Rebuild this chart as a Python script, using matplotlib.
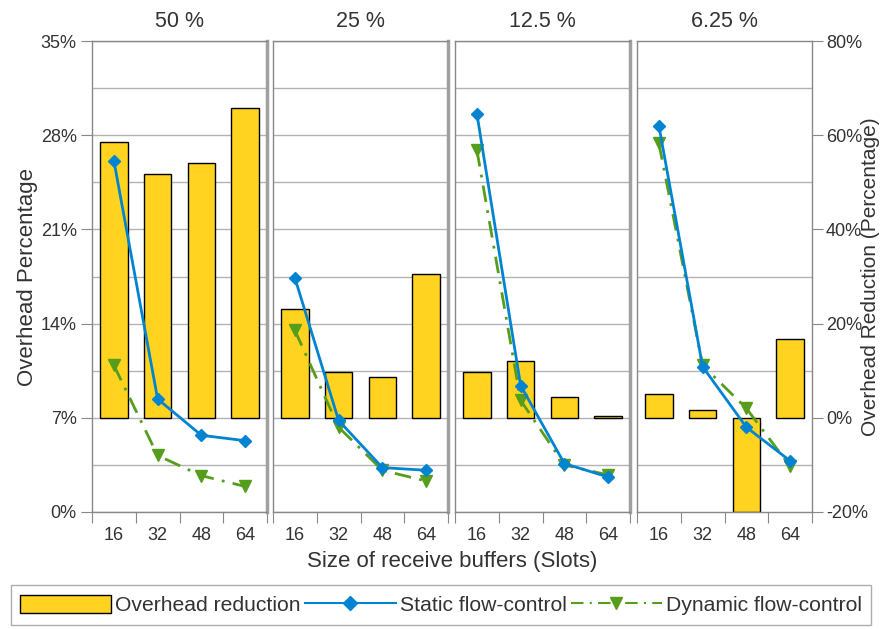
import matplotlib
matplotlib.use("Agg")
import matplotlib.pyplot as plt
import numpy as np
from matplotlib.ticker import FixedLocator, NullFormatter
from matplotlib.lines import Line2D
from matplotlib.patches import Patch

plt.rcParams["font.family"] = ["Liberation Sans", "DejaVu Sans"]

panels = ["50 %", "25 %", "12.5 %", "6.25 %"]
slots = ["16", "32", "48", "64"]

# overhead reduction (right axis, %)
reduction = [
    [58.6, 51.7, 54.0, 65.7],
    [23.0, 9.7, 8.7, 30.5],
    [9.7, 12.1, 4.4, 0.3],
    [5.0, 1.6, -20.0, 16.7],
]
# overhead percentage (left axis, %)
static_fc = [
    [26.1, 8.4, 5.7, 5.3],
    [17.4, 6.8, 3.3, 3.1],
    [29.6, 9.4, 3.6, 2.6],
    [28.7, 10.8, 6.3, 3.8],
]
dynamic_fc = [
    [10.9, 4.2, 2.7, 1.9],
    [13.5, 6.3, 3.1, 2.3],
    [26.9, 8.3, 3.5, 2.75],
    [27.4, 10.9, 7.7, 3.4],
]

YELLOW = "#ffd320"
BLUE = "#0084d1"
GREEN = "#579d1c"
GRID = "#b3b3b3"
SPINE = "#888888"
TXT = "#333333"

W, H = 885, 629
fig = plt.figure(figsize=(W / 100, H / 100), dpi=100)

lefts = [92, 273, 455, 637]
pw = 175
top, bottom = 41, 512

x = np.arange(len(slots))
for i, name in enumerate(panels):
    ax = fig.add_axes([lefts[i] / W, 1 - bottom / H, pw / W, (bottom - top) / H])
    axb = ax.twinx()
    ax.set_zorder(axb.get_zorder() + 1)
    ax.patch.set_visible(False)

    axb.set_ylim(-20, 80)
    axb.yaxis.set_minor_locator(FixedLocator(np.arange(-20, 81, 10)))
    axb.grid(True, which="minor", axis="y", color=GRID, lw=1)
    axb.set_axisbelow(True)
    axb.bar(x, reduction[i], width=0.63, color=YELLOW, edgecolor="black", lw=1, zorder=2)
    for s in axb.spines.values():
        s.set_visible(False)
    axb.tick_params(axis="y", which="minor", length=0)

    ax.plot(x, static_fc[i], color=BLUE, lw=2, marker="D", ms=6, zorder=4)
    ax.plot(x, dynamic_fc[i], color=GREEN, lw=2, marker="v", ms=9,
            dashes=(6, 3, 1, 3), zorder=3)
    ax.set_ylim(0, 35)
    ax.set_xlim(-0.5, 3.5)

    ax.xaxis.set_major_locator(FixedLocator(np.arange(-0.5, 3.6, 1)))
    ax.xaxis.set_major_formatter(NullFormatter())
    ax.xaxis.set_minor_locator(FixedLocator(x))
    ax.set_xticklabels(slots, minor=True)
    ax.tick_params(axis="x", which="major", length=8, color=SPINE, direction="out")
    ax.tick_params(axis="x", which="minor", length=0, labelsize=13, labelcolor=TXT, pad=11)

    for s in ax.spines.values():
        s.set_color(SPINE)
        s.set_linewidth(1)
    if i < 3:
        ax.spines["right"].set_linewidth(2.5)
        ax.spines["right"].set_color("#a0a0a0")

    if i == 0:
        ax.set_yticks(np.arange(0, 36, 7))
        ax.set_yticklabels([f"{v}%" for v in range(0, 36, 7)])
        ax.tick_params(axis="y", length=8, color=SPINE, labelsize=13, labelcolor=TXT, pad=3)
        ax.set_ylabel("Overhead Percentage", fontsize=16, color=TXT, labelpad=2)
    else:
        ax.set_yticks([])

    if i == 3:
        axb.set_yticks(np.arange(-20, 81, 20))
        axb.set_yticklabels([f"{v}%" for v in range(-20, 81, 20)])
        axb.tick_params(axis="y", which="major", length=8, color=SPINE,
                        labelsize=13, labelcolor=TXT, pad=2)
        axb.set_ylabel("Overhead Reduction (Percentage)", fontsize=15, color=TXT,
                       labelpad=-5)
    else:
        axb.set_yticks([])

    ax.set_title(name, fontsize=15.5, color=TXT, pad=10)

fig.text((92 + 812) / 2 / W, 1 - 562 / H, "Size of receive buffers (Slots)",
         ha="center", va="center", fontsize=16, color=TXT)

handles = [
    Patch(facecolor=YELLOW, edgecolor="black", lw=1),
    Line2D([], [], color=BLUE, lw=1.5, marker="D", ms=7),
    Line2D([], [], color=GREEN, lw=1.5, marker="v", ms=9, dashes=(6, 3, 1, 3)),
]
labels = ["Overhead reduction", "Static flow-control", "Dynamic flow-control"]
leg = fig.legend(handles, labels, loc="center", ncol=3,
                 bbox_to_anchor=(441 / W, 1 - 605 / H), fontsize=15.2,
                 frameon=True, fancybox=False, edgecolor="#999999",
                 handlelength=4.3, handleheight=0.9, handletextpad=0.2,
                 columnspacing=0.2, borderpad=0.45, labelcolor=TXT)
leg.get_frame().set_linewidth(1)

fig.savefig("out.png", dpi=100)
